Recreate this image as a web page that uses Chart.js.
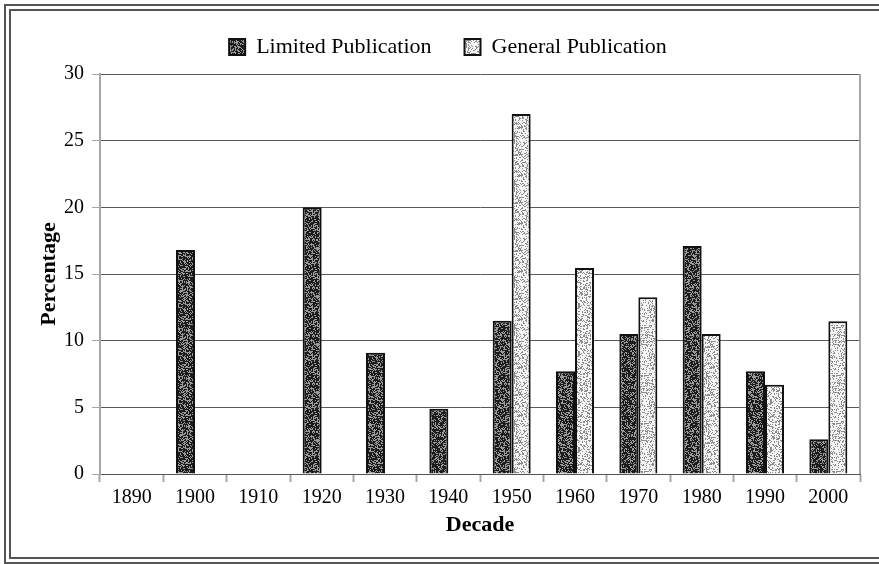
<!DOCTYPE html>
<html>
<head>
<meta charset="utf-8">
<script src="https://cdn.jsdelivr.net/npm/chart.js@4"></script>
<style>
  body { margin: 0; background: #fff; overflow: hidden; }
  .frame { position: absolute; border: 2px solid #555; }
  #outer { left: 4px; top: 4px; width: 900px; height: 556px; }
  #inner { left: 9px; top: 9px; width: 900px; height: 546px; }
  #chart { position: absolute; left: 0; top: 0; }
</style>
</head>
<body>
<div class="frame" id="outer"></div>
<div class="frame" id="inner"></div>
<canvas id="chart" width="879" height="564"></canvas>
<script>
const decades = ["1890", "1900", "1910", "1920", "1930", "1940", "1950", "1960", "1970", "1980", "1990", "2000"];
const limited = [null, 16.8, null, 20.0, 9.1, 4.9, 11.5, 7.7, 10.5, 17.1, 7.7, 2.6];
const general = [null, null, null, null, null, null, 27.0, 15.45, 13.25, 10.5, 6.7, 11.45];
const yTicks = [0, 5, 10, 15, 20, 25, 30];

const serif = "'Liberation Serif', 'Times New Roman', serif";

// stipple texture for the bars
function makePattern(bg, dot, density, seed) {
  const c = document.createElement("canvas");
  c.width = 48;
  c.height = 48;
  const g = c.getContext("2d");
  g.fillStyle = bg;
  g.fillRect(0, 0, 48, 48);
  let s = seed;
  g.fillStyle = dot;
  for (let y = 0; y < 48; y++) {
    for (let x = 0; x < 48; x++) {
      s = (s * 1103515245 + 12345) % 2147483648;
      if (s / 2147483648 < density) g.fillRect(x, y, 1, 1);
    }
  }
  return g.createPattern(c, "repeat");
}

const darkFill = makePattern("#1c1c1c", "#9a9a9a", 0.38, 7);
const lightFill = makePattern("#f4f4f4", "#8a8a8a", 0.3, 13);

// empty box between legend and plot, for a bit more room
const spacer = {
  id: "spacer",
  beforeInit(chart) {
    Chart.layouts.addBox(chart, {
      position: "top",
      weight: 0,
      fullSize: true,
      options: {},
      width: 0,
      height: 0,
      top: 0,
      left: 0,
      right: 0,
      bottom: 0,
      isHorizontal() { return true; },
      update(maxWidth) { this.width = maxWidth; this.height = 6; },
      draw() {}
    });
  }
};

const rightEdge = {
  id: "rightEdge",
  afterDraw(chart) {
    const { ctx, chartArea } = chart;
    ctx.save();
    ctx.strokeStyle = "#a6a6a6";
    ctx.lineWidth = 2;
    ctx.beginPath();
    ctx.moveTo(chartArea.right, chartArea.top);
    ctx.lineTo(chartArea.right, chartArea.bottom);
    ctx.stroke();
    ctx.restore();
  }
};

const ctx = document.getElementById("chart").getContext("2d");

new Chart(ctx, {
  type: "bar",
  data: {
    labels: decades,
    datasets: [
      {
        label: "Limited Publication",
        data: limited,
        backgroundColor: darkFill,
        borderColor: "#111",
        borderWidth: 2
      },
      {
        label: "General Publication",
        data: general,
        backgroundColor: lightFill,
        borderColor: "#111",
        borderWidth: 2
      }
    ]
  },
  options: {
    responsive: false,
    animation: false,
    devicePixelRatio: 1,
    layout: { padding: { left: 36, right: 19, top: 3, bottom: 25 } },
    datasets: { bar: { categoryPercentage: 0.6, barPercentage: 1 } },
    plugins: {
      tooltip: { enabled: false },
      legend: {
        position: "top",
        labels: {
          font: { family: serif, size: 22 },
          color: "#000",
          boxWidth: 16,
          boxHeight: 16,
          padding: 33
        }
      }
    },
    scales: {
      x: {
        offset: true,
        afterFit: s => { s.height = 65; },
        grid: { drawOnChartArea: false, offset: true, tickLength: 8, tickColor: "#a6a6a6", tickWidth: 2 },
        border: { color: "#555", width: 1 },
        ticks: { font: { family: serif, size: 20 }, color: "#000", padding: 4 },
        title: {
          display: true,
          text: "Decade",
          font: { family: serif, size: 22, weight: "bold" },
          color: "#000",
          padding: 0
        }
      },
      y: {
        min: 0,
        max: 30,
        afterFit: s => { s.width = 64; },
        afterBuildTicks: s => { s.ticks = yTicks.map(v => ({ value: v })); },
        grid: { color: "#5a5a5a", lineWidth: 1, tickLength: 8, tickColor: "#a6a6a6" },
        border: { color: "#a6a6a6", width: 2 },
        ticks: { font: { family: serif, size: 20 }, color: "#000", padding: 8 },
        title: {
          display: true,
          text: "Percentage",
          font: { family: serif, size: 22, weight: "bold" },
          color: "#000",
          padding: 0
        }
      }
    }
  },
  plugins: [spacer, rightEdge]
});
</script>
</body>
</html>
